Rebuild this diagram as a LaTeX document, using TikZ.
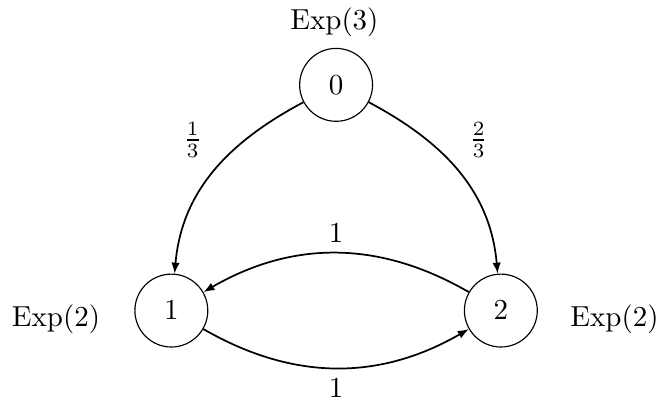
\documentclass[tikz,border=0pt]{standalone}
\usetikzlibrary{arrows.meta,positioning}

\begin{document}
\begin{tikzpicture}[scale=1.0,>={Latex[length=3.8pt,width=2.9pt]}]
  \useasboundingbox (0,0) rectangle (8.0,4.84);
  \tikzset{st/.style={draw,circle,minimum size=0.885cm,inner sep=0pt},
           jump/.style={->,semithick}}

  % States
  \node[st] (n0) at (4.08,3.81) {$0$};
  \node[st] (n1) at (2.08,1.07) {$1$};
  \node[st] (n2) at (6.08,1.07) {$2$};

  % Holding times
  \node (e0) at (4.06,4.57) {Exp$(3)$};
  \node (e1) at (0.68,0.97) {Exp$(2)$};
  \node (e2) at (7.46,0.97) {Exp$(2)$};

  % Jumps out of 0
  \draw[jump] (n0) to[out=208,in=85] (n1);
  \draw[jump] (n0) to[out=-28,in=95] (n2);
  \node (p01) at (2.34,3.14) {$\frac{1}{3}$};
  \node (p02) at (5.81,3.14) {$\frac{2}{3}$};

  % Jumps between 1 and 2
  \draw[jump] (n2) to[bend right=30] node[above] {$1$} (n1);
  \draw[jump] (n1) to[bend right=30] node[below] {$1$} (n2);
\end{tikzpicture}
\end{document}
